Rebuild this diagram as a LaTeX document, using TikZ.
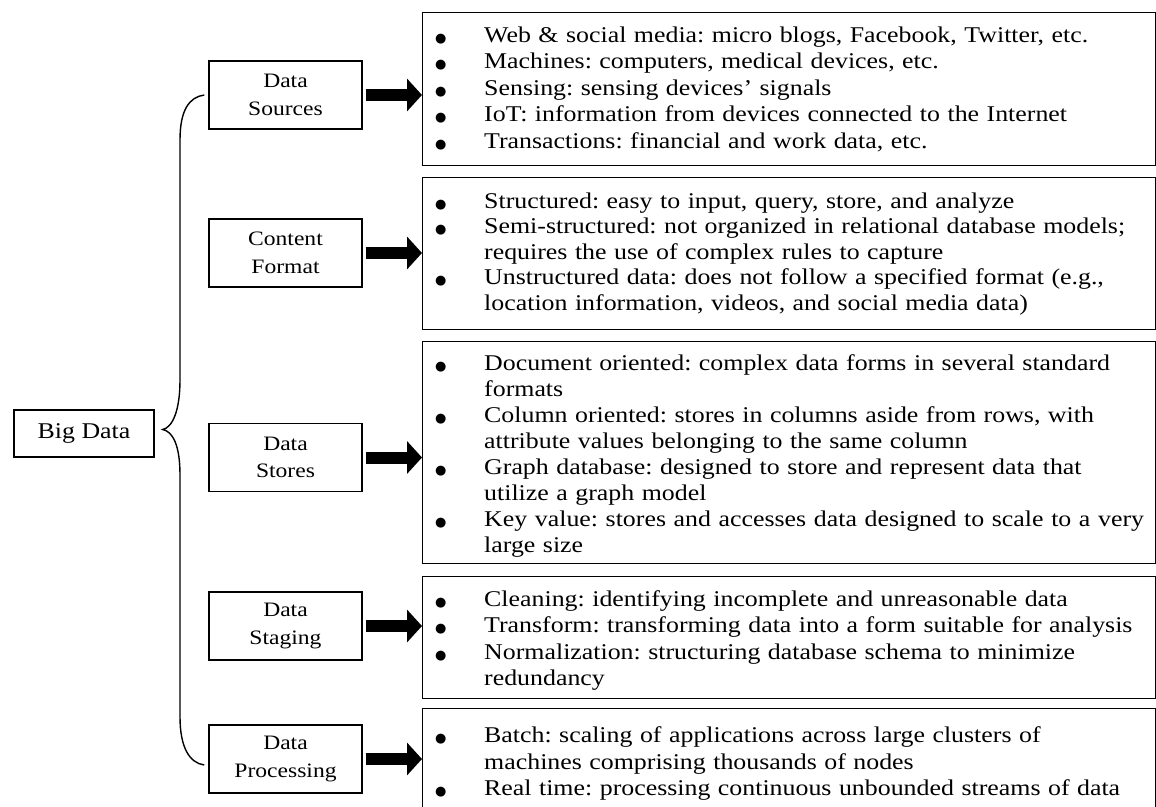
\documentclass[tikz,border=0pt]{standalone}
\usepackage{fontspec}
\setmainfont{Liberation Serif}[FakeStretch=1.15]
\newfontfamily\symfont{DejaVu Sans}
\usetikzlibrary{arrows.meta,calc}
\newcommand\bul{\makebox[49pt][l]{{\symfont\fontsize{13}{13}\selectfont ●}}}
\newcommand\itm[1]{\mbox{\bul#1}}
\newcommand\cnt[1]{\mbox{\hspace*{49pt}#1}}
\newcommand\tallfirst[1]{\rule{0pt}{#1}}
\begin{document}
\frenchspacing
\begin{tikzpicture}[x=1pt,y=-1pt,
  catbox/.style={draw, line width=1.4pt, minimum width=153pt, minimum height=68pt, inner sep=0pt, align=center, font=\fontsize{20.5}{27.5}\selectfont},
  listbox/.style={draw, line width=1.4pt, anchor=north west, minimum width=733pt, text width=708pt, inner xsep=12pt, inner ysep=0pt, align=left, font=\fontsize{22.5}{26.3}\selectfont\frenchspacing},
  bigarrow/.style={line width=12pt, -{Triangle[length=15pt,width=32pt]}},
  bracel/.style={line width=1.4pt}]
\useasboundingbox (0,0) rectangle (1156,806);
\clip (0,0) rectangle (1156,806);
% category boxes
\node[catbox, minimum width=140pt, minimum height=47pt, font=\fontsize{22.5}{26}\selectfont] (big) at (84,433.5) {Big Data};
\node[catbox] (src) at (285.5,95) {Data\\Sources};
\node[catbox] (fmt) at (285.5,253) {Content\\Format};
\node[catbox] (sto) at (285.5,457.5) {Data\\Stores};
\node[catbox] (stg) at (285.5,626) {Data\\Staging};
\node[catbox] (prc) at (285.5,759) {Data\\Processing};
% list boxes
\node[listbox, minimum height=153pt, font=\fontsize{22.5}{26.6}\selectfont\frenchspacing] (l1) at (422,12) {%
\itm{Web \& social media: micro blogs, Facebook, Twitter, etc.}\\
\itm{Machines: computers, medical devices, etc.}\\
\itm{Sensing: sensing devices' signals}\\
\itm{IoT: information from devices connected to the Internet}\\
\itm{Transactions: financial and work data, etc.}};
\node[listbox, minimum height=152pt, font=\fontsize{22.5}{25.5}\selectfont\frenchspacing] (l2) at (422,177) {%
\itm{Structured: easy to input, query, store, and analyze}\\
\itm{Semi-structured: not organized in relational database models;}\\
\cnt{requires the use of complex rules to capture}\\
\itm{Unstructured data: does not follow a specified format (e.g.,}\\
\cnt{location information, videos, and social media data)}};
\node[listbox, minimum height=222pt, font=\fontsize{22.5}{26.1}\selectfont\frenchspacing] (l3) at (422,341) {%
\itm{\tallfirst{22.5pt}Document oriented: complex data forms in several standard}\\
\cnt{formats}\\
\itm{Column oriented: stores in columns aside from rows, with}\\
\cnt{attribute values belonging to the same column}\\
\itm{Graph database: designed to store and represent data that}\\
\cnt{utilize a graph model}\\
\itm{{\spaceskip=7.6pt\relax Key value: stores and accesses data designed to scale to a very}}\\
\cnt{large size}};
\node[listbox, minimum height=122pt] (l4) at (422,576) {%
\itm{\tallfirst{21.5pt}Cleaning: identifying incomplete and unreasonable data}\\
\itm{Transform: transforming data into a form suitable for analysis}\\
\itm{Normalization: structuring database schema to minimize}\\
\cnt{redundancy}};
\node[listbox, minimum height=110pt] (l5) at (422,708) {%
\itm{Batch: scaling of applications across large clusters of}\\
\cnt{machines comprising thousands of nodes}\\
\itm{Real time: processing continuous unbounded streams of data}};
% arrows
\draw[bigarrow] ($(src.east)+(3,0)$) -- (src.east -| l1.west);
\draw[bigarrow] ($(fmt.east)+(3,0)$) -- (fmt.east -| l2.west);
\draw[bigarrow] ($(sto.east)+(3,0)$) -- (sto.east -| l3.west);
\draw[bigarrow] ($(stg.east)+(3,0)$) -- (stg.east -| l4.west);
\draw[bigarrow] ($(prc.east)+(3,0)$) -- (prc.east -| l5.west);
% brace
\coordinate (bt) at ($(src.west)+(-4,0)$);
\coordinate (bb) at ($(prc.west)+(-4,6)$);
\coordinate (tip) at ($(big.east)+(8,-4)$);
\draw[bracel] (bt) .. controls +(-15,2) and +(0,-30) .. (180,140) -- (180,380)
  .. controls +(0,30) and +(10,-2) .. (tip)
  .. controls +(10,2) and +(0,-30) .. (180,475) -- (180,717)
  .. controls +(0,30) and +(-15,-2) .. (bb);
\end{tikzpicture}
\end{document}
